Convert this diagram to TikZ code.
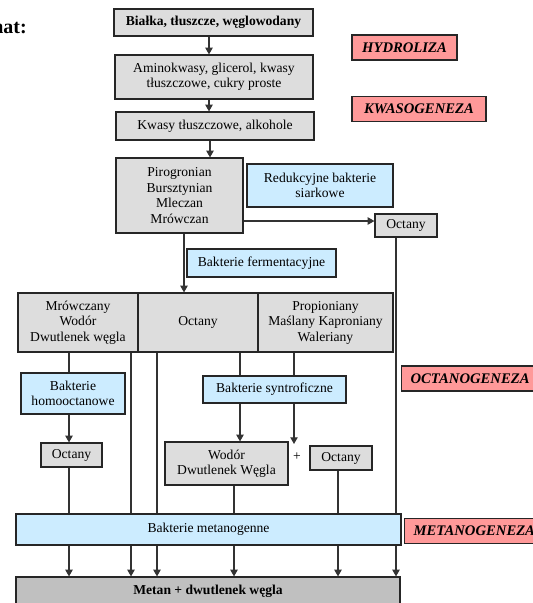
\documentclass[tikz,border=0pt]{standalone}
\usepackage{fontspec}
\setmainfont{LiberationSerif}[Extension=.ttf, UprightFont=*-Regular, BoldFont=*-Bold,
  ItalicFont=*-Italic, BoldItalicFont=*-BoldItalic]
\usetikzlibrary{arrows.meta, positioning, calc}
\definecolor{boxgray}{HTML}{DDDDDD}
\definecolor{boxblue}{HTML}{CCECFF}
\definecolor{boxred}{HTML}{FF9999}
\definecolor{boxdark}{HTML}{C0C0C0}

\begin{document}
\begin{tikzpicture}[x=0.75pt, y=-0.75pt, >={Triangle[length=5pt,width=5.5pt]},
    box/.style 2 args={draw=black!85, line width=0.9pt, inner sep=0pt, align=center,
      minimum width=#1*0.75pt, minimum height=#2*0.75pt,
      font=\fontsize{10.2}{11.6}\selectfont},
    graybox/.style 2 args={box={#1}{#2}, fill=boxgray},
    bluebox/.style 2 args={box={#1}{#2}, fill=boxblue},
    redlbl/.style={draw=black!85, line width=0.9pt, fill=boxred, inner ysep=0pt,
      minimum height=25*0.75pt, font=\fontsize{11}{13}\selectfont\bfseries\itshape},
    ln/.style={draw=black!80, line width=0.8pt},
    arr/.style={ln, ->}]
  \useasboundingbox (0,0) rectangle (532,603);
  \node[font=\fontsize{15}{17}\selectfont\bfseries, anchor=base east, inner sep=0pt] (tytul) at (27,33) {Schemat:};
  % Etapy
  \node[graybox={199}{27}] (sub) at (213.5,22.5) {\textbf{Białka, tłuszcze, węglowodany}};
  \node[graybox={198}{44}] (amino) at (214,77) {Aminokwasy, glicerol, kwasy\\tłuszczowe, cukry proste};
  \node[graybox={198}{28}] (kwasy) at (215,126) {Kwasy tłuszczowe, alkohole};
  \node[graybox={127}{75}] (piro) at (179.5,195.5) {Pirogronian\\Bursztynian\\Mleczan\\Mrówczan};
  \node[bluebox={146}{43}] (redu) at (320,185.5) {Redukcyjne bakterie\\siarkowe};
  \node[graybox={62}{23}] (octR) at (406,225.5) {Octany};
  \node[bluebox={149}{28}] (ferm) at (261.5,263) {Bakterie fermentacyjne};
  \node[graybox={120}{59}] (mrow) at (78,322.5) {Mrówczany\\Wodór\\Dwutlenek węgla};
  \node[graybox={120}{59}] (octC) at (198,322.5) {Octany};
  \node[graybox={135}{59}] (prop) at (325.5,322.5) {Propioniany\\Maślany Kaproniany\\Waleriany};
  \node[bluebox={104}{41}] (homo) at (73,393.5) {Bakterie\\homooctanowe};
  \node[bluebox={143}{27}] (synt) at (274.5,389.5) {Bakterie syntroficzne};
  \node[graybox={61}{24}] (octL) at (71.5,455) {Octany};
  \node[graybox={123}{43}] (wod) at (226.5,463.5) {Wodór\\Dwutlenek Węgla};
  \node[font=\fontsize{10.2}{11.6}\selectfont] (plus) at (297,457) {+};
  \node[graybox={62}{24}] (octS) at (341,458) {Octany};
  \node[bluebox={385}{31}] (meta) at (208.5,529.5) {Bakterie metanogenne};
  \node[box={384}{28}, fill=boxdark] (prod) at (208,591) {\textbf{Metan + dwutlenek węgla}};
  \coordinate (plusin) at (294,444);
  % Fazy
  \node[redlbl, minimum width=105*0.75pt] (hydro) at (404.5,47.5) {HYDROLIZA};
  \node[redlbl, minimum width=134*0.75pt] (kwaso) at (419,109) {KWASOGENEZA};
  \node[redlbl, anchor=west, inner xsep=6.75pt] (octano) at (401,378.5) {OCTANOGENEZA};
  \node[redlbl, anchor=west, inner xsep=6.75pt] (metano) at (404,531) {METANOGENEZA};
  % Strzalki
  \draw[arr] (sub.south -| 209,0) -- (amino.north -| 209,0);
  \draw[arr] (amino.south -| 209,0) -- (kwasy.north -| 209,0);
  \draw[arr] (kwasy.south -| 210,0) -- (piro.north -| 210,0);
  \draw[arr] (piro.east |- 0,221) -- (octR.west |- 0,221);
  \draw[arr] (piro.south -| 184,0) -- (octC.north -| 184,0);
  \draw[ln] (mrow.south -| 69,0) -- (homo.north -| 69,0);
  \draw[arr] (homo.south -| 69,0) -- (octL.north -| 69,0);
  \draw[ln] (octC.south -| 240,0) -- (synt.north -| 240,0);
  \draw[ln] (prop.south -| 294,0) -- (synt.north -| 294,0);
  \draw[arr] (synt.south -| 240,0) -- (wod.north -| 240,0);
  \draw[arr] (synt.south -| 294,0) -- (plusin);
  \foreach \nd/\xx in {octL/69, mrow/131, octC/157, wod/234, octS/338, octR/396} {
    \draw[ln] (\nd.south -| \xx,0) -- (meta.north -| \xx,0);
    \draw[arr] (meta.south -| \xx,0) -- (prod.north -| \xx,0);
  }
\end{tikzpicture}
\end{document}
